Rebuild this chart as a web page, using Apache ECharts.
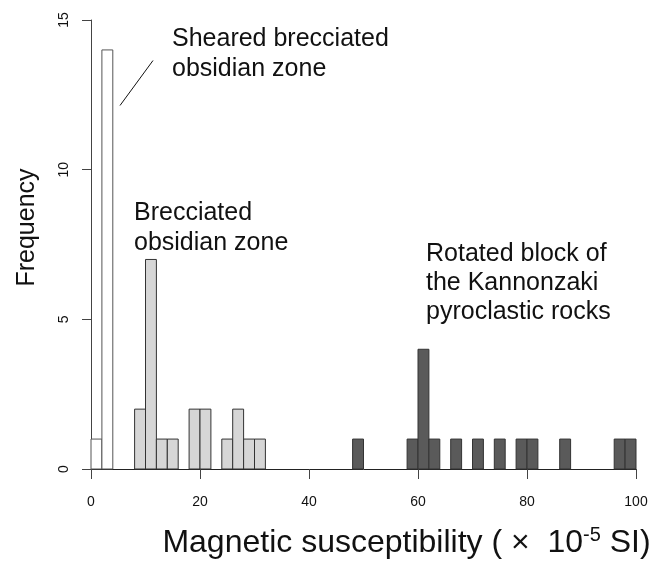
<!DOCTYPE html>
<html>
<head>
<meta charset="utf-8">
<script src="https://cdn.jsdelivr.net/npm/echarts@6/dist/echarts.min.js"></script>
<style>html,body{margin:0;padding:0;background:#fff}#c{width:660px;height:564px}</style>
</head>
<body>
<div id="c"></div>
<script>
// Histogram data (bin width 2, bins given by their left edge)
const binWidth = 2;
const shearedBins = [0, 2];
const shearedCounts = [1, 14];
const brecciatedBins = [8, 10, 12, 14, 18, 20, 24, 26, 28, 30];
const brecciatedCounts = [2, 7, 1, 1, 2, 2, 1, 2, 1, 1];
const rotatedBins = [48, 58, 60, 62, 66, 70, 74, 78, 80, 86, 96, 98];
const rotatedCounts = [1, 1, 4, 1, 1, 1, 1, 1, 1, 1, 1, 1];
const xTicks = [0, 20, 40, 60, 80, 100];
const yTicks = [0, 5, 10, 15];

const FONT = 'Liberation Sans, Arial, sans-serif';

function pairs(bins, counts) { return bins.map((b, i) => [b, counts[i]]); }

function histSeries(name, bins, counts, fill, stroke) {
  return {
    type: 'custom',
    name: name,
    data: pairs(bins, counts),
    encode: { x: 0, y: 1 },
    renderItem: function (params, api) {
      const x0 = api.value(0), c = api.value(1);
      const p0 = api.coord([x0, c]);
      const p1 = api.coord([x0 + binWidth, 0]);
      return {
        type: 'rect',
        shape: { x: p0[0], y: p0[1], width: p1[0] - p0[0], height: p1[1] - p0[1] },
        style: { fill: fill, stroke: stroke, lineWidth: 1 }
      };
    },
    z: 3
  };
}

const chart = echarts.init(document.getElementById('c'), null, { renderer: 'canvas' });
chart.setOption({
  animation: false,
  backgroundColor: '#ffffff',
  grid: { left: 91, right: 24, top: 20, bottom: 85, containLabel: false },
  xAxis: {
    type: 'value', min: xTicks[0], max: xTicks[xTicks.length - 1], interval: 20,
    splitLine: { show: false },
    axisLine: { show: true, onZero: false, lineStyle: { color: '#222', width: 1 } },
    axisTick: { show: true, length: 10, inside: false, lineStyle: { color: '#444' } },
    axisLabel: { fontFamily: FONT, fontSize: 14, color: '#111', margin: 26 },
    name: '{a|Magnetic susceptibility ( ×  10}{s|-5}{a| SI)}',
    nameLocation: 'middle', nameGap: 56,
    nameTextStyle: {
      padding: [0, 0, 0, 86],
      rich: {
        a: { fontFamily: FONT, fontSize: 32, color: '#111', lineHeight: 34, verticalAlign: 'bottom' },
        s: { fontFamily: FONT, fontSize: 20, color: '#111', lineHeight: 34, verticalAlign: 'top' }
      }
    }
  },
  yAxis: {
    type: 'value', min: yTicks[0], max: yTicks[yTicks.length - 1], interval: 5,
    splitLine: { show: false },
    axisLine: { show: true, lineStyle: { color: '#444', width: 1 } },
    axisTick: { show: true, length: 9, lineStyle: { color: '#444' } },
    axisLabel: { fontFamily: FONT, fontSize: 14, color: '#111', rotate: 90, margin: 20 },
    name: 'Frequency', nameLocation: 'middle', nameRotate: 90, nameGap: 51,
    nameTextStyle: { fontFamily: FONT, fontSize: 25, color: '#111', padding: [0, 0, 0, 34] }
  },
  series: [
    histSeries('Sheared brecciated obsidian zone', shearedBins, shearedCounts, '#ffffff', '#555'),
    histSeries('Brecciated obsidian zone', brecciatedBins, brecciatedCounts, '#d6d6d6', '#333'),
    histSeries('Rotated block of the Kannonzaki pyroclastic rocks', rotatedBins, rotatedCounts, '#5a5a5a', '#333')
  ],
  graphic: [
    { type: 'text', left: 172, top: 24, style: { text: 'Sheared brecciated\nobsidian zone', font: '25px ' + FONT, lineHeight: 30, fill: '#111' } },
    { type: 'text', left: 134, top: 198, style: { text: 'Brecciated\nobsidian zone', font: '25px ' + FONT, lineHeight: 30, fill: '#111' } },
    { type: 'text', left: 426, top: 240, style: { text: 'Rotated block of\nthe Kannonzaki\npyroclastic rocks', font: '25px ' + FONT, lineHeight: 29, fill: '#111' } },
    { type: 'line', shape: { x1: 120, y1: 105.5, x2: 153, y2: 60.5 }, style: { stroke: '#111', lineWidth: 1 } }
  ]
});
</script>
</body>
</html>
